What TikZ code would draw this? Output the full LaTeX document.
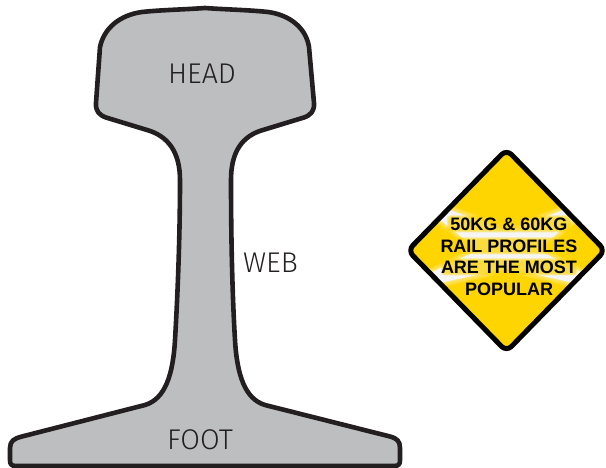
\documentclass[tikz,border=0pt]{standalone}
\usepackage{fontspec}
\setmainfont{Liberation Sans}
\newfontfamily\lightf{Fira Sans}[UprightFont=* Light]
\definecolor{railfill}{HTML}{BCBEC0}
\definecolor{railline}{HTML}{231F20}
\definecolor{signyellow}{HTML}{FFD500}
\tikzset{
  raillabel/.style={inner sep=0pt,text=railline,font=\lightf\fontsize{28.5}{28.5}\selectfont},
  signlabel/.style={inner sep=0pt,text=black,font=\bfseries\fontsize{18}{18}\selectfont},
  railbody/.style={fill=railfill,draw=railline,line width=4.6pt,line join=round},
  signedge/.style={draw=black,line width=5pt,rounded corners=7pt,line join=round},
  bandglow/.style={draw=white,line join=round,opacity=.16}
}
\newcommand{\glowbar}[3]{%
  \foreach \i in {0,1,2}{
    \fill[signyellow,opacity=.36,rounded corners=3pt]
      ({#1-#3/2-\i},{#2-6.5-\i}) rectangle ({#1+#3/2+\i},{#2+6.5+\i});
  }}
\newcommand{\signshape}{(506.5,149.5) -- (605.1,250.5) -- (506.5,351.5) -- (407.9,250.5) -- cycle}
\newcommand{\bandshape}{(450,210) -- (508,231) -- (563,210) -- (573,220) -- (538,250) -- (583,273) -- (573,283) -- (508,268) -- (440,283) -- (430,273) -- (478,250) -- (440,220) -- cycle}
\begin{document}
\begin{tikzpicture}[x=1pt,y=-1pt]
\useasboundingbox (0,0) rectangle (606,468);
% rail
\path[railbody] (205,8)
  .. controls (225,9.5) and (250,10) .. (268,12)
  .. controls (290,15) and (306,28) .. (309,47)
  -- (314,103)
  .. controls (314.5,111) and (311,115) .. (304,117.5)
  -- (263,130)
  .. controls (242,136) and (231,152) .. (231,180)
  .. controls (231,230) and (232,290) .. (235,340)
  .. controls (237,375) and (245,399) .. (265,405)
  -- (390,436.5)
  .. controls (397,438.5) and (400,441) .. (400,448)
  -- (400,460)
  .. controls (400,464) and (399,466) .. (394,466)
  -- (205,466) -- (16,466)
  .. controls (11,466) and (10,464) .. (10,460)
  -- (10,448)
  .. controls (10,441) and (14,438.5) .. (22,436.5)
  -- (145,405)
  .. controls (165,399) and (173,375) .. (175,340)
  .. controls (178,290) and (180,230) .. (180,180)
  .. controls (180,152) and (168,136) .. (147,130)
  -- (106,117.5)
  .. controls (99,115) and (95.5,111) .. (96,103)
  -- (100,47)
  .. controls (104,28) and (120,15) .. (142,12)
  .. controls (160,10) and (185,9.5) .. (205,8) -- cycle;
\node[raillabel] (head) at (202,74) {HEAD};
\node[raillabel] (web) at (270.5,263) {WEB};
\node[raillabel] (foot) at (200,440) {FOOT};
% sign
\begin{scope}
  \clip[rounded corners=7pt] \signshape;
  \fill[signyellow] (400,140) rectangle (610,360);
  \foreach \w in {9,6,3}{
    \draw[bandglow,line width=\w pt] \bandshape;
  }
  \fill[white!96!black] \bandshape;
  \glowbar{509}{224}{120}
  \glowbar{509}{246}{137}
  \glowbar{509}{267}{132}
  \glowbar{509}{289}{85}
\end{scope}
\path[signedge] \signshape;
\node[signlabel] (l1) at (509,224) {50KG \& 60KG};
\node[signlabel] (l2) at (509,246) {RAIL PROFILES};
\node[signlabel] (l3) at (509,267) {ARE THE MOST};
\node[signlabel] (l4) at (509,289) {POPULAR};
\end{tikzpicture}
\end{document}
